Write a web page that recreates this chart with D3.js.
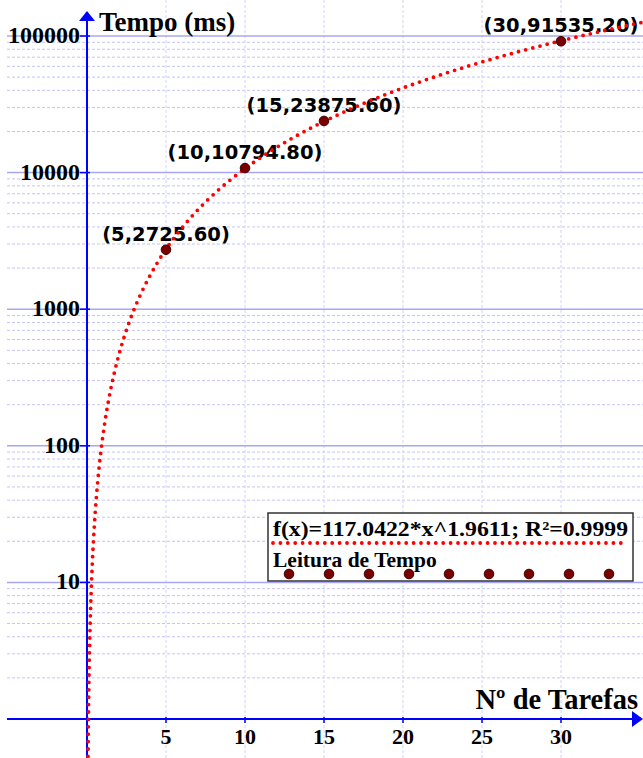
<!DOCTYPE html>
<html>
<head>
<meta charset="utf-8">
<script src="https://cdn.jsdelivr.net/npm/d3@7"></script>
<style>
  html, body { margin: 0; padding: 0; background: #fff; }
  svg { display: block; }
</style>
</head>
<body>
<svg id="chart" width="643" height="758"></svg>
<script>
// Measured run times (ms) against number of tasks
const tasks = [5, 10, 15, 30];
const times = [2725.60, 10794.80, 23875.60, 91535.20];

// Power-law fit f(x) = a * x^b
const fitCoef = [117.0422];
const fitExp = [1.9611];
const fitR2 = ["0.9999"];

const xTicks = [5, 10, 15, 20, 25, 30];
const yTicks = [10, 100, 1000, 10000, 100000];
const yTickLabels = ["10", "100", "1000", "10000", "100000"];

const W = 643, H = 758;
const svg = d3.select("#chart");

const x = d3.scaleLinear().domain([0, 30]).range([87, 561]);
const y = d3.scaleLog().domain([1, 100000]).range([719, 36]);

const gridLeft = 7, gridRight = W;

// minor horizontal grid (2..9 inside each decade)
const minor = [];
for (let d = 1; d < 100000; d *= 10) {
  for (let k = 2; k <= 9; k++) minor.push(d * k);
}
svg.append("g").selectAll("line").data(minor).join("line")
  .attr("x1", gridLeft).attr("x2", gridRight)
  .attr("y1", d => y(d)).attr("y2", d => y(d))
  .attr("stroke", "#c4c4f4").attr("stroke-width", 1)
  .attr("stroke-dasharray", "3,2");

// vertical grid
svg.append("g").selectAll("line").data(xTicks).join("line")
  .attr("x1", d => x(d)).attr("x2", d => x(d))
  .attr("y1", 0).attr("y2", H)
  .attr("stroke", "#d2d2f6").attr("stroke-width", 1)
  .attr("stroke-dasharray", "3,2");

// major horizontal grid
svg.append("g").selectAll("line").data(yTicks).join("line")
  .attr("x1", gridLeft).attr("x2", gridRight)
  .attr("y1", d => y(d)).attr("y2", d => y(d))
  .attr("stroke", "#a8a8f2").attr("stroke-width", 1.5);

// axes
const blue = "#0000ff";
svg.append("line").attr("x1", x(0)).attr("x2", x(0)).attr("y1", H).attr("y2", 18)
  .attr("stroke", blue).attr("stroke-width", 2);
svg.append("path").attr("d", `M${x(0)},11 L${x(0) - 8},21 L${x(0) + 8},21 Z`).attr("fill", blue);
svg.append("line").attr("x1", gridLeft).attr("x2", 634).attr("y1", y(1)).attr("y2", y(1))
  .attr("stroke", blue).attr("stroke-width", 2);
svg.append("path").attr("d", `M643,${y(1)} L632,${y(1) - 8} L632,${y(1) + 8} Z`).attr("fill", blue);

// tick marks
svg.append("g").selectAll("line").data(yTicks).join("line")
  .attr("x1", x(0) - 7).attr("x2", x(0) + 3)
  .attr("y1", d => y(d)).attr("y2", d => y(d))
  .attr("stroke", blue).attr("stroke-width", 1.5);
svg.append("g").selectAll("line").data(xTicks).join("line")
  .attr("x1", d => x(d)).attr("x2", d => x(d))
  .attr("y1", y(1) - 2).attr("y2", y(1) + 4)
  .attr("stroke", blue).attr("stroke-width", 1.5);

const serif = "'Liberation Serif', 'Times New Roman', serif";

// tick labels
svg.append("g").selectAll("text").data(yTicks).join("text")
  .attr("x", 80).attr("y", d => y(d) + 7)
  .attr("text-anchor", "end")
  .attr("font-family", serif).attr("font-weight", "bold").attr("font-size", 24)
  .text((d, i) => yTickLabels[i]);
svg.append("g").selectAll("text").data(xTicks).join("text")
  .attr("x", d => x(d)).attr("y", 744)
  .attr("text-anchor", "middle")
  .attr("font-family", serif).attr("font-weight", "bold").attr("font-size", 22)
  .text(d => d);

// axis titles
svg.append("text").attr("x", 99).attr("y", 31)
  .attr("font-family", serif).attr("font-weight", "bold").attr("font-size", 27)
  .text("Tempo (ms)");
svg.append("text").attr("x", 638).attr("y", 709).attr("text-anchor", "end")
  .attr("font-family", serif).attr("font-weight", "bold").attr("font-size", 28.5)
  .text("Nº de Tarefas");

// point labels
svg.append("g").selectAll("text").data(tasks).join("text")
  .attr("x", d => x(d)).attr("y", (d, i) => y(times[i]) - 9)
  .attr("text-anchor", "middle")
  .attr("font-family", "'DejaVu Sans', Verdana, sans-serif").attr("font-weight", "bold").attr("font-size", 19.5)
  .attr("fill", "#000")
  .text((d, i) => `(${d},${times[i].toFixed(2)})`);

// fitted curve, dotted
const fit = v => fitCoef[0] * Math.pow(v, fitExp[0]);
const xs = d3.range(0.06, 36, 0.02);
const line = d3.line().x(d => x(d)).y(d => y(fit(d)));
svg.append("path").datum(xs).attr("d", line)
  .attr("fill", "none").attr("stroke", "#ff0000").attr("stroke-width", 3.8)
  .attr("stroke-linecap", "round").attr("stroke-dasharray", "0,7.4");

// data points
const ptFill = "#7a0000", ptStroke = "#3a0000";
svg.append("g").selectAll("circle").data(tasks).join("circle")
  .attr("cx", d => x(d)).attr("cy", (d, i) => y(times[i]))
  .attr("r", 4.8).attr("fill", ptFill).attr("stroke", ptStroke).attr("stroke-width", 1);

// legend
const lg = svg.append("g");
lg.append("rect").attr("x", 268).attr("y", 513).attr("width", 365).attr("height", 68)
  .attr("fill", "#fff").attr("stroke", "#333").attr("stroke-width", 1.5);
lg.append("text").attr("x", 273).attr("y", 536)
  .attr("font-family", serif).attr("font-weight", "bold").attr("font-size", 22)
  .attr("textLength", 355).attr("lengthAdjust", "spacingAndGlyphs")
  .text(`f(x)=${fitCoef[0]}*x^${fitExp[0]}; R²=${fitR2[0]}`);
lg.append("line").attr("x1", 273).attr("x2", 628).attr("y1", 543).attr("y2", 543)
  .attr("stroke", "#ff0000").attr("stroke-width", 3.8)
  .attr("stroke-linecap", "round").attr("stroke-dasharray", "0,7.4");
lg.append("text").attr("x", 273).attr("y", 567)
  .attr("font-family", serif).attr("font-weight", "bold").attr("font-size", 21.5)
  .text("Leitura de Tempo");
lg.append("g").selectAll("circle").data(d3.range(9)).join("circle")
  .attr("cx", i => 289 + i * 40).attr("cy", 574)
  .attr("r", 4.8).attr("fill", ptFill).attr("stroke", ptStroke).attr("stroke-width", 1);
</script>
</body>
</html>
